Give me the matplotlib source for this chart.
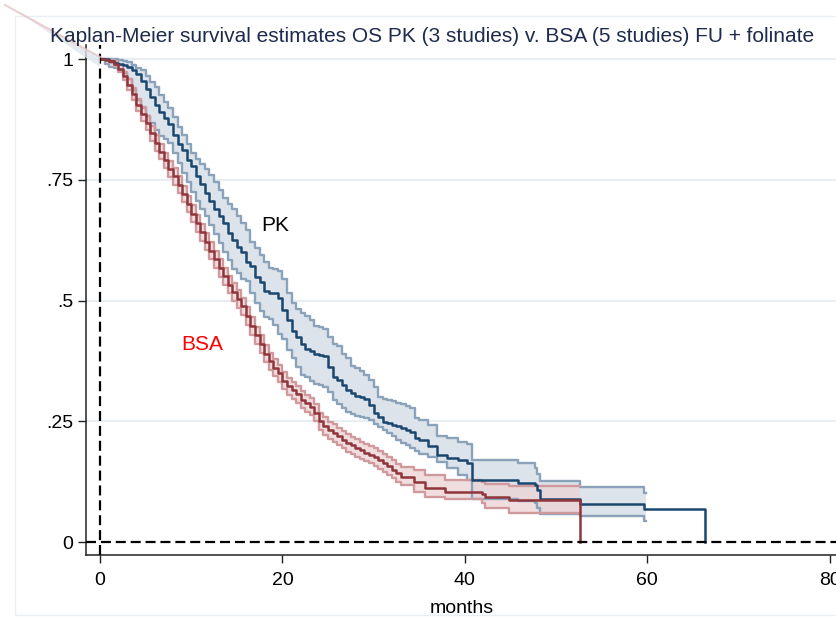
import matplotlib
matplotlib.use("Agg")
import matplotlib.pyplot as plt
from matplotlib.patches import Rectangle, Polygon
from matplotlib.lines import Line2D

plt.rcParams["font.family"] = ["Liberation Sans", "DejaVu Sans"]

# ---------------- data ----------------
# BSA arm: survival on a half-month grid 0..33, then the later event times
bsa_grid = [i * 0.5 for i in range(67)]
bsa_late_t = [34.4, 35.6, 37.8, 41.9, 42.2, 44.9, 52.6]
bsa_s = [1.000, 0.998, 0.995, 0.990, 0.980, 0.965, 0.947, 0.927, 0.905, 0.886,
         0.868, 0.846, 0.826, 0.808, 0.790, 0.772, 0.757, 0.740, 0.720, 0.700,
         0.680, 0.660, 0.641, 0.622, 0.603, 0.585, 0.567, 0.550, 0.533, 0.518,
         0.503, 0.488, 0.468, 0.447, 0.428, 0.410, 0.390, 0.374, 0.361, 0.349,
         0.334, 0.322, 0.314, 0.306, 0.295, 0.287, 0.280, 0.268, 0.250, 0.240,
         0.231, 0.226, 0.219, 0.212, 0.205, 0.200, 0.195, 0.190, 0.185, 0.181,
         0.176, 0.170, 0.164, 0.157, 0.150, 0.142, 0.135,
         0.125, 0.111, 0.104, 0.100, 0.094, 0.087, 0.000]
bsa_hi = [1.000, 0.999, 0.998, 0.995, 0.987, 0.974, 0.958, 0.939, 0.918, 0.900,
          0.883, 0.862, 0.842, 0.824, 0.806, 0.788, 0.774, 0.757, 0.737, 0.717,
          0.698, 0.678, 0.659, 0.640, 0.621, 0.603, 0.585, 0.568, 0.551, 0.536,
          0.521, 0.506, 0.486, 0.465, 0.446, 0.428, 0.408, 0.392, 0.379, 0.367,
          0.352, 0.340, 0.332, 0.324, 0.313, 0.305, 0.298, 0.286, 0.268, 0.258,
          0.249, 0.244, 0.237, 0.230, 0.223, 0.218, 0.213, 0.208, 0.203, 0.199,
          0.195, 0.189, 0.183, 0.176, 0.169, 0.161, 0.155,
          0.149, 0.139, 0.128, 0.125, 0.121, 0.116, 0.116]
bsa_lo = [1.000, 0.997, 0.992, 0.985, 0.973, 0.956, 0.936, 0.915, 0.892, 0.872,
          0.853, 0.830, 0.810, 0.792, 0.774, 0.756, 0.740, 0.723, 0.703, 0.683,
          0.662, 0.642, 0.623, 0.604, 0.585, 0.567, 0.549, 0.532, 0.515, 0.500,
          0.485, 0.470, 0.450, 0.429, 0.410, 0.392, 0.372, 0.356, 0.343, 0.331,
          0.316, 0.304, 0.296, 0.288, 0.277, 0.269, 0.262, 0.250, 0.232, 0.222,
          0.213, 0.208, 0.201, 0.194, 0.187, 0.182, 0.177, 0.172, 0.167, 0.163,
          0.157, 0.151, 0.145, 0.139, 0.132, 0.124, 0.118,
          0.104, 0.093, 0.090, 0.080, 0.071, 0.061, 0.061]

# PK arm: survival on a half-month grid 0..34, then the later event times
pk_grid = [i * 0.5 for i in range(69)]
pk_late_t = [34.5, 35.0, 36.0, 37.0, 38.0, 39.3, 40.2, 40.75, 45.8, 47.7,
             47.9, 48.2, 52.6, 59.6]
pk_s = [1.000, 1.000, 0.995, 0.992, 0.990, 0.987, 0.983, 0.978, 0.968, 0.955,
        0.937, 0.922, 0.905, 0.890, 0.877, 0.865, 0.843, 0.823, 0.812, 0.790,
        0.778, 0.757, 0.742, 0.722, 0.705, 0.690, 0.675, 0.660, 0.640, 0.626,
        0.611, 0.600, 0.580, 0.571, 0.548, 0.538, 0.520, 0.516, 0.515, 0.505,
        0.480, 0.460, 0.437, 0.425, 0.410, 0.400, 0.395, 0.390, 0.388, 0.386,
        0.363, 0.342, 0.335, 0.325, 0.315, 0.309, 0.303, 0.300, 0.297, 0.284,
        0.268, 0.258, 0.249, 0.247, 0.242, 0.240, 0.236, 0.232, 0.228,
        0.215, 0.212, 0.199, 0.180, 0.173, 0.170, 0.163, 0.128, 0.123, 0.118,
        0.108, 0.090, 0.079, 0.068]
pk_hi = [1.000, 1.000, 1.000, 0.999, 0.998, 0.996, 0.993, 0.988, 0.982, 0.977,
         0.965, 0.953, 0.942, 0.925, 0.910, 0.898, 0.880, 0.860, 0.843, 0.823,
         0.805, 0.793, 0.783, 0.772, 0.760, 0.745, 0.728, 0.712, 0.700, 0.690,
         0.675, 0.660, 0.645, 0.622, 0.608, 0.594, 0.580, 0.568, 0.565, 0.562,
         0.545, 0.515, 0.495, 0.482, 0.475, 0.468, 0.460, 0.448, 0.445, 0.442,
         0.425, 0.410, 0.405, 0.390, 0.380, 0.365, 0.360, 0.355, 0.345, 0.335,
         0.320, 0.300, 0.297, 0.294, 0.292, 0.288, 0.285, 0.281, 0.277,
         0.257, 0.252, 0.242, 0.220, 0.215, 0.208, 0.203, 0.170, 0.163, 0.153,
         0.140, 0.126, 0.113, 0.102]
pk_lo = [1.000, 0.990, 0.984, 0.981, 0.978, 0.972, 0.958, 0.935, 0.915, 0.898,
         0.883, 0.868, 0.853, 0.840, 0.835, 0.826, 0.805, 0.785, 0.765, 0.745,
         0.725, 0.705, 0.690, 0.675, 0.656, 0.638, 0.620, 0.600, 0.583, 0.566,
         0.556, 0.545, 0.540, 0.515, 0.495, 0.478, 0.466, 0.462, 0.450, 0.430,
         0.420, 0.398, 0.380, 0.362, 0.345, 0.342, 0.333, 0.328, 0.325, 0.320,
         0.310, 0.295, 0.285, 0.278, 0.270, 0.265, 0.260, 0.258, 0.256, 0.253,
         0.245, 0.238, 0.232, 0.225, 0.220, 0.212, 0.205, 0.200, 0.195,
         0.188, 0.183, 0.177, 0.165, 0.153, 0.139, 0.128, 0.090, 0.085, 0.080,
         0.070, 0.058, 0.054, 0.044]
pk_last_t = 66.3      # last observed failure in the PK arm
pk_ci_end = 59.9      # confidence band stops here

y_ticks = [0, 0.25, 0.5, 0.75, 1]
y_ticklabels = ["0", ".25", ".5", ".75", "1"]
x_ticks = [0, 20, 40, 60, 80]

title = ("Kaplan-Meier survival estimates OS PK (3 studies) v. BSA "
         "(5 studies) FU + folinate")

# ---------------- colours ----------------
NAVY = "#1a476f"
NAVY_CI = "#8aa3bb"
NAVY_FILL = "#dde3ea"
MAROON = "#90353b"
MAROON_CI = "#d09a9d"
MAROON_FILL = "#ecd4d5"

# ---------------- figure ----------------
W, H = 837, 617
fig = plt.figure(figsize=(W / 100, H / 100), dpi=100)
fig.patch.set_facecolor("white")

# faint outer graph-region frame
fig.add_artist(Rectangle((15 / W, 1 - 615 / H), 1.0, (615 - 16) / H,
                         transform=fig.transFigure, fill=False,
                         edgecolor="#e8eef2", lw=1.0, zorder=0))

ax = fig.add_axes([86 / W, 1 - 555 / H, 1 - 86 / W, (555 - 45) / H])
ax.set_xlim(-1.535, 80.81)
ax.set_ylim(-0.0269, 1.029)

for y in y_ticks[1:]:
    ax.axhline(y, color="#e8eef2", lw=1.6, zorder=0)

# time arrays
bsa_t = bsa_grid + bsa_late_t
pk_t = pk_grid + pk_late_t

# confidence bands
pk_ct = pk_t + [pk_ci_end]
pk_chi = pk_hi + [pk_hi[-1]]
pk_clo = pk_lo + [pk_lo[-1]]
ax.fill_between(pk_ct, pk_clo, pk_chi, step="post", color=NAVY_FILL,
                lw=0, zorder=1)
ax.fill_between(bsa_t, bsa_lo, bsa_hi, step="post", color=MAROON_FILL,
                alpha=0.75, lw=0, zorder=2)

ax.step(pk_ct, pk_chi, where="post", color=NAVY_CI, lw=1.7, zorder=3)
ax.step(pk_ct, pk_clo, where="post", color=NAVY_CI, lw=1.7, zorder=3)
ax.step(bsa_t, bsa_hi, where="post", color=MAROON_CI, lw=1.7, zorder=4)
ax.step(bsa_t, bsa_lo, where="post", color=MAROON_CI, lw=1.7, zorder=4)

# survival curves
ax.step(pk_t + [pk_last_t], pk_s + [0.0], where="post", color=NAVY,
        lw=1.8, zorder=5)
ax.step(bsa_t, bsa_s, where="post", color=MAROON, lw=1.8, zorder=6)

# reference lines
ax.axvline(0, color="black", lw=1.6, ls=(0, (4.5, 2.2)), zorder=7)
ax.axhline(0, color="black", lw=1.6, ls=(0, (4.5, 2.2)), zorder=7)

ax.text(19.2, 0.656, "PK", fontsize=15, ha="center", va="center",
        color="black")
ax.text(11.2, 0.408, "BSA", fontsize=15, ha="center", va="center",
        color="red")

# axes styling
for side in ("top", "right"):
    ax.spines[side].set_visible(False)
for side in ("left", "bottom"):
    ax.spines[side].set_color("#222222")
    ax.spines[side].set_linewidth(1.1)
ax.set_yticks(y_ticks)
ax.set_yticklabels(y_ticklabels)
ax.set_xticks(x_ticks)
ax.tick_params(axis="both", length=6, width=1.0, color="#222222",
               labelsize=14, labelcolor="black")
ax.tick_params(axis="y", pad=3)
ax.tick_params(axis="x", pad=6)
ax.set_xlabel("months", fontsize=14, labelpad=8)

fig.text(432 / W, 1 - 36 / H, title, ha="center", va="center",
         fontsize=15, color="#1e2b4d")

# faint stray band entering the plot at the top-left corner
fig.add_artist(Polygon([(12 / W, 1 - 8 / H), (100 / W, 1 - 57 / H),
                        (100 / W, 1 - 67 / H)], closed=True,
                       transform=fig.transFigure, facecolor="#dfe5ec",
                       edgecolor="none", alpha=0.8, zorder=1))
fig.add_artist(Line2D([5 / W, 100 / W], [1 - 5 / H, 1 - 57 / H],
                      transform=fig.transFigure, color="#e8c6c8",
                      lw=1.5, alpha=0.8, zorder=1))

fig.savefig("out.png", dpi=100)
